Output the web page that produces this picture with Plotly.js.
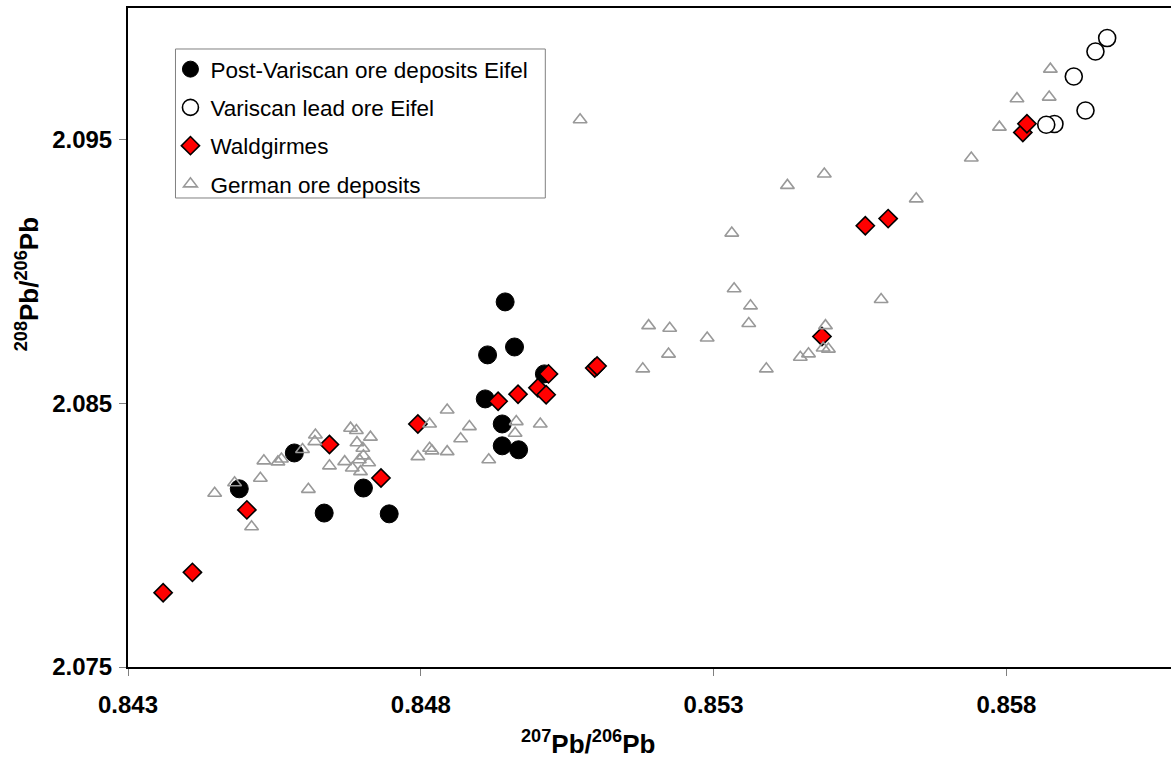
<!DOCTYPE html>
<html>
<head>
<meta charset="utf-8">
<script src="https://cdn.plot.ly/plotly-3.0.1.min.js"></script>
<style>html,body{margin:0;padding:0;background:#fff;}#chart{width:1171px;height:758px;}</style>
</head>
<body>
<div id="chart"></div>
<script>
// Post-Variscan ore deposits Eifel (filled black circles)
const postVariscanX = [0.84490,0.84584,0.84635,0.84702,0.84746,0.84944,0.84960,0.84914,0.85011,0.84910,0.84939,0.84939,0.84967];
const postVariscanY = [2.08176,2.08312,2.08084,2.08179,2.08081,2.08885,2.08714,2.08684,2.08612,2.08517,2.08422,2.08339,2.08324];

// Variscan lead ore Eifel (open circles)
const variscanX = [0.85972,0.85952,0.85915,0.85935,0.85882,0.85868];
const variscanY = [2.09886,2.09835,2.09740,2.09611,2.09560,2.09557];

// Waldgirmes (red diamonds)
const waldgirmesX = [0.84360,0.84410,0.84503,0.84644,0.84732,0.84795,0.84932,0.84966,0.85000,0.85014,0.85018,0.85097,0.85101,0.85485,0.85559,0.85598,0.85828,0.85835];
const waldgirmesY = [2.07782,2.07859,2.08096,2.08344,2.08217,2.08422,2.08508,2.08535,2.08559,2.08533,2.08612,2.08634,2.08642,2.08754,2.09174,2.09201,2.09528,2.09561];

// German ore deposits (grey open triangles)
const germanX = [0.84448,0.84482,0.84511,0.84526,0.84532,0.84556,0.84562,0.84598,0.84608,0.84620,
                 0.84619,0.84644,0.84670,0.84680,0.84690,0.84691,0.84714,0.84701,0.84695,0.84683,
                 0.84711,0.84697,0.84702,0.84815,0.84795,0.84815,0.84819,0.84845,0.84883,0.84868,
                 0.84845,0.84916,0.84963,0.84961,0.85004,0.85189,0.85225,0.85289,0.85223,0.85179,
                 0.85072,0.85489,0.85426,0.85646,0.85331,0.85335,0.85363,0.85360,0.85390,0.85586,
                 0.85491,0.85448,0.85462,0.85487,0.85496,0.85875,0.85818,0.85873,0.85788,0.85740];
const germanY = [2.08159,2.08199,2.08032,2.08216,2.08282,2.08278,2.08289,2.08325,2.08174,2.08380,
                 2.08355,2.08263,2.08279,2.08406,2.08397,2.08351,2.08372,2.08330,2.08286,2.08255,
                 2.08275,2.08241,2.08301,2.08422,2.08298,2.08330,2.08320,2.08475,2.08412,2.08366,
                 2.08317,2.08286,2.08431,2.08387,2.08422,2.08795,2.08785,2.08748,2.08687,2.08631,
                 2.09576,2.09370,2.09327,2.09276,2.09146,2.08935,2.08870,2.08803,2.08631,2.08894,
                 2.08795,2.08675,2.08688,2.08710,2.08706,2.09768,2.09656,2.09662,2.09548,2.09431];

const seriesNames = ["Post-Variscan ore deposits Eifel","Variscan lead ore Eifel","Waldgirmes","German ore deposits"];
const xTitle = "<b><sup>207</sup>Pb/<sup>206</sup>Pb</b>";
const yTitle = "<b><sup>208</sup>Pb/<sup>206</sup>Pb</b>";

const font = "Liberation Sans, Arial, sans-serif";

const traces = [
  {x: postVariscanX, y: postVariscanY, name: seriesNames[0], legendgroup: "a", type: "scatter", mode: "markers",
   marker: {symbol: "circle", size: 18, color: "#000000", line: {color: "#000000", width: 1}}},
  {x: variscanX, y: variscanY, name: seriesNames[1], legendgroup: "b", type: "scatter", mode: "markers",
   marker: {symbol: "circle", size: 17, color: "#ffffff", line: {color: "#000000", width: 1.6}}},
  {x: waldgirmesX, y: waldgirmesY, name: seriesNames[2], legendgroup: "c", type: "scatter", mode: "markers",
   marker: {symbol: "diamond", size: 14, color: "#ff0000", line: {color: "#000000", width: 1.6}}},
  {x: germanX, y: germanY, name: seriesNames[3], legendgroup: "d", type: "scatter", mode: "markers",
   marker: {symbol: "triangle-up-open", size: 12, color: "#999999", line: {color: "#999999", width: 1.6}}}
];

const layout = {
  width: 1171, height: 758,
  margin: {l: 127.5, r: 0, t: 8, b: 91},
  paper_bgcolor: "#ffffff", plot_bgcolor: "#ffffff",
  font: {family: font, color: "#000000", size: 20},
  showlegend: true,
  legend: {
    x: 0.0407, y: 0.9393, xanchor: "left", yanchor: "top",
    borderwidth: 0, bgcolor: "rgba(0,0,0,0)",
    font: {family: font, size: 22.5, color: "#000000"},
    traceorder: "grouped", tracegroupgap: 6, itemwidth: 30
  },
  shapes: [
    {type: "rect", xref: "paper", yref: "paper", x0: 0.04552, x1: 0.4001, y0: 0.7117, y1: 0.9378,
     line: {color: "#808080", width: 1}, fillcolor: "#ffffff", layer: "below"}
  ],
  xaxis: {
    range: [0.843, 0.86081], tick0: 0.843, dtick: 0.005, tickformat: ".3f",
    showgrid: false, zeroline: false,
    showline: true, linecolor: "#000000", linewidth: 2, mirror: true,
    ticks: "outside", ticklen: 7, tickwidth: 1, tickcolor: "#808080",
    tickfont: {family: font, size: 24, color: "#000000", weight: "bold"},
    ticklabelstandoff: 8
  },
  yaxis: {
    range: [2.075, 2.100], tick0: 2.075, dtick: 0.01, tickformat: ".3f",
    showgrid: false, zeroline: false,
    showline: true, linecolor: "#000000", linewidth: 2, mirror: true,
    ticks: "outside", ticklen: 7, tickwidth: 1, tickcolor: "#808080",
    tickfont: {family: font, size: 24, color: "#000000", weight: "bold"},
    ticklabelstandoff: 2
  },
  annotations: [
    {text: xTitle, xref: "paper", yref: "paper", x: 0.4413, y: -0.114, xanchor: "center", yanchor: "middle",
     showarrow: false, font: {family: font, size: 26, color: "#000000"}},
    {text: yTitle, xref: "paper", yref: "paper", x: -0.0963, y: 0.58, xanchor: "center", yanchor: "middle",
     textangle: -90, showarrow: false, font: {family: font, size: 26, color: "#000000"}}
  ]
};

Plotly.newPlot("chart", traces, layout, {displayModeBar: false, staticPlot: true});
</script>
</body>
</html>
